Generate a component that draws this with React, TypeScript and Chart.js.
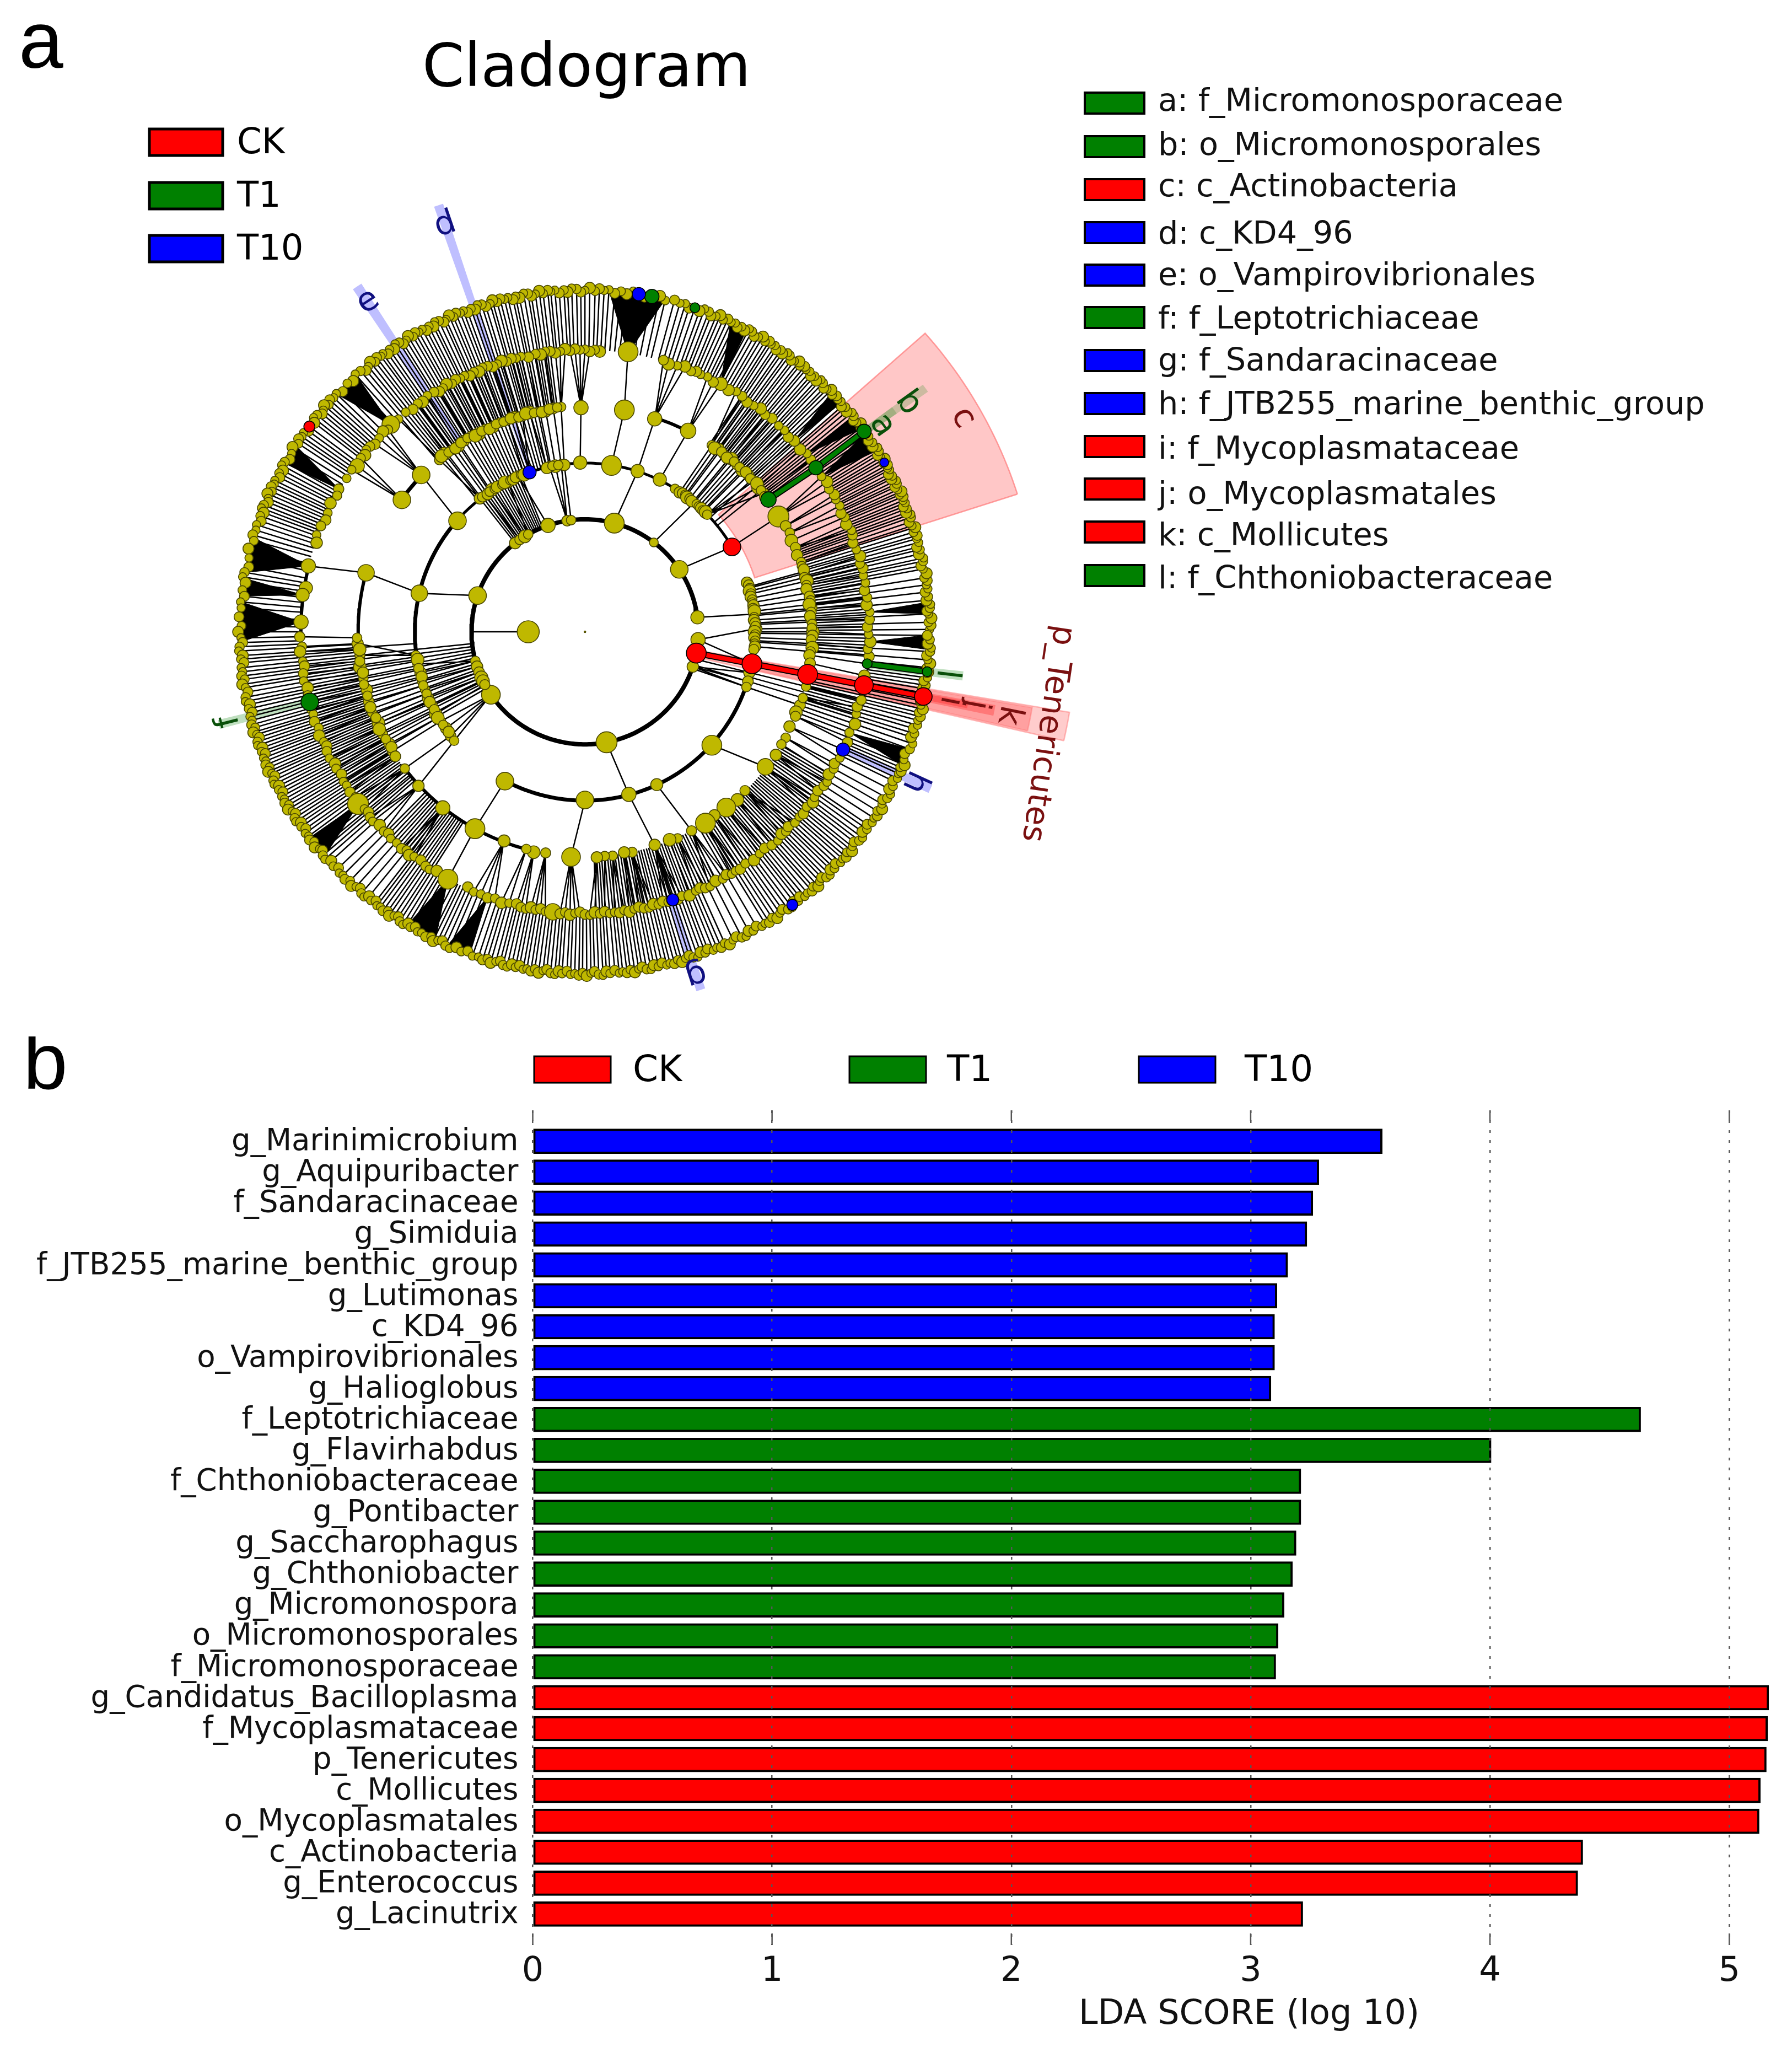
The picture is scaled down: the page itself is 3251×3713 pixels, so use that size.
import React, { useEffect, useRef } from "react";
import { Chart, registerables } from "chart.js";

Chart.register(...registerables);

// ---------- panel b data ----------
const t10Names = ["g_Marinimicrobium", "g_Aquipuribacter", "f_Sandaracinaceae", "g_Simiduia", "f_JTB255_marine_benthic_group", "g_Lutimonas", "c_KD4_96", "o_Vampirovibrionales", "g_Halioglobus"];
const t10Values = [3.55, 3.285, 3.26, 3.235, 3.155, 3.11, 3.1, 3.1, 3.085];
const t1Names = ["f_Leptotrichiaceae", "g_Flavirhabdus", "f_Chthoniobacteraceae", "g_Pontibacter", "g_Saccharophagus", "g_Chthoniobacter", "g_Micromonospora", "o_Micromonosporales", "f_Micromonosporaceae"];
const t1Values = [4.63, 4.005, 3.21, 3.21, 3.19, 3.175, 3.14, 3.115, 3.105];
const ckNames = ["g_Candidatus_Bacilloplasma", "f_Mycoplasmataceae", "p_Tenericutes", "c_Mollicutes", "o_Mycoplasmatales", "c_Actinobacteria", "g_Enterococcus", "g_Lacinutrix"];
const ckValues = [5.165, 5.16, 5.155, 5.13, 5.125, 4.388, 4.367, 3.218];
const xTickValues = [0, 1, 2, 3, 4, 5];

// ---------- panel a legend ----------
const groupNames = ["CK", "T1", "T10"];
const groupColors = ["#ff0000", "#008000", "#0000ff"];
const cladeLegend = [
  ["a: f_Micromonosporaceae", "#008000"], ["b: o_Micromonosporales", "#008000"], ["c: c_Actinobacteria", "#ff0000"],
  ["d: c_KD4_96", "#0000ff"], ["e: o_Vampirovibrionales", "#0000ff"], ["f: f_Leptotrichiaceae", "#008000"],
  ["g: f_Sandaracinaceae", "#0000ff"], ["h: f_JTB255_marine_benthic_group", "#0000ff"], ["i: f_Mycoplasmataceae", "#ff0000"],
  ["j: o_Mycoplasmatales", "#ff0000"], ["k: c_Mollicutes", "#ff0000"], ["l: f_Chthoniobacteraceae", "#008000"],
];

// ---------- cladogram: node angles (degrees, counter-clockwise from east) ----------
const ringRadii = [104, 208, 312, 416, 521, 632];

const ring1Linked = [161.2, 128, 125, 122, 120, 109, 99, 97, 75, 52.6, 33.7, 7.4, -4, -18, -79, -146, 195, 198, 201, 204, 206, 208];
const ring1Big = [[161.2, 16], [109, 13], [75, 18], [33.7, 16], [7.4, 12], [-4, 13], [-79, 19], [-146, 17], [52.6, 8], [204, 12]];

const ring2Linked = [166.8, 128, 126, 123, 120, 117, 113, 102, 100, 98, 97, 72, 50, 30.2, 6, 1, -10.9, -14, -17, -19, -75, 191, 194, 197, 200, 203, 206, 209, 212, 215, 218, 220];
const ring2Free = [138.7, 127, 125, 124, 122, 121, 119, 118, 116, 115, 114, 112, 111, 109, 103, 101, 99, 91.6, 81, 64, 58, 56, 55, 54, 53, 52, 51, 49, 48, 47, 46, 45, 44, 17, 16, 15, 14, 13, 12, 11, 10, 9, 8, 7, 5, 4, 3, 2, 0, -1, -2, -3, -4, -5, -6, -42, -65, -90, -118, 188, 189.5, 192.5, 195.5, 198.5, 201.5, 204.5, 207.5, 210.5, 213.5, 216.5];
const ring2Big = [[166.8, 15], [138.7, 16], [81, 18], [-42, 18], [-90, 16], [-118, 16], [64, 12], [72, 12], [91.6, 12], [-65, 11], [-75, 13]];

const ring3Linked = [164.8, 136, 130, 128, 126, 124, 122, 120, 118, 116, 114, 112, 110, 108, 106, 104, 102, 100, 98, 96, 91, 80, 72, 63, 56, 54, 52, 50, 48, 46, 44, 42, 40, 38, 31, 15, 10, 6, 3, 0, -3, -10.4, -19, -17, -37, -62, -72, -93.5, -119, 183, 186, 189, 192, 195, 198, 201, 204, 207, 210, 212, -142.6, -137];
const ring3Free = [144, 129, 127, 125, 123, 121, 119, 117, 115, 113, 111, 109, 107, 105, 103, 101, 99, 97, 55, 53, 51, 49, 47, 45, 43, 41, 39, 37, 28, 26, 24, 22, 20, 18, 17, 16, 14, 13, 12, 11, 9, 8, 7, 5, 4, 2, 1, -1, -2, -4, -5, -6, -8, -14, -21, -22, -25, -28, -30, -33, -45, -48, -51.4, -55, -58, -66, -68, -78, -80, -83, -85, -87, -100, -103, -105, -111, -128.7, 181.5, 184.5, 187.5, 190.5, 193.5, 196.5, 199.5, 202.5, 205.5, 208.5, 211, 213.5];
const ring3Big = [[164.8, 15], [136, 16], [144, 16], [91, 13], [80, 18], [72, 13], [63, 14], [31, 19], [-37, 15], [-51.4, 17], [-58, 18], [-93.5, 17], [-119, 18], [-111, 11], [-128.7, 13]];

const ring4Nodes = [-6.5, -5, -3.5, -2, -0.5, 1, 2.5, 4, 5.5, 7, 8.5, 10, 11.5, 13, 14, 15.5, 17, 18.5, 20, 21, 22.5, 24, 25, 26.5, 28, 29, 30.5, 32, 33.5, 35.6, 37.5, 39, 40.5, 42.6, 44, 45.5, 47, 49, 50.5, 52, 53.5, 55, 56.5, 58, 59.5, 61.5, 63, 64.5, 66, 67, 68, 69.5, 71, 72.8, 74, 81.3, 87, 88, 89, 90, 91, 92, 93, 94, 95, 96, 97, 98, 99, 100, 101.5, 103, 104, 105, 106, 107, 108, 109, 110, 111, 112, 113, 114, 115, 116, 117, 118, 119, 120, 121, 122, 123.5, 125, 126, 127.5, 129, 131, 132.9, 134, 135, 136.5, 138, 139, 140, 141, 142, 143.7, 145, 147, 149.7, 151, 153, 155, 156.5, 158, 160, 161.5, 166.5, 171, 172.5, 178, 181, 183, 184, 186, 187, 188.5, 190, 191.5, 193, 194.4, 196, 197, 198.5, 200, 201.5, 203, 204, 205, 206.5, 208, 209, 210.5, 212, 213, 214.5, 216, 217.4, 219, 220, 221, 222, 223.5, 225, 226, 227, 228.5, 230, 231, 232, 233, 234.5, 236, 237, 238.4, 241.2, -114.5, -113, -111.5, -110, -108.5, -107, -105.5, -104, -103, -102, -101, -100, -99, -98, -96.5, -95, -94, -93, -92, -91, -90, -89, -88, -87, -86, -85, -84, -83, -82, -81, -80, -79, -78, -77, -76, -75, -74, -73, -72, -71, -70, -68.5, -67, -66, -65, -64, -62.5, -61, -60, -59, -58, -57, -55.5, -53.7, -52, -50.5, -49, -47.5, -46, -45, -44, -42.5, -41, -40, -38.5, -37, -36, -34.5, -33, -32, -30.5, -29, -28, -26.5, -24.7, -23, -21, -19, -17, -15.5, -14, -10.9, -9];
const ring4Big = [[81.3, 18], [61.5, 12], [72.8, 11], [132.9, 16], [143.7, 13], [166.5, 13], [171, 12], [172.5, 12], [178, 13], [217.4, 19], [241.2, 18], [-96.5, 15], [42.6, 10]];

const ring5Nodes = [
  0.4, 1.1, 1.6, 2.3, 3, 3.5, 4, 4.6, 5.3, 5.9, 6.7, 7.2, 7.9, 8.6, 9.1, 9.8, 10.6, 11.2, 11.9, 12.4, 13.2, 13.9, 14.4, 15.1, 15.8, 16.3, 17, 17.7, 18.1, 18.8, 19.5, 20, 20.5, 21.1, 21.6, 22.1, 22.6, 23.2, 23.7, 24.1, 24.6, 25.2, 25.6, 26.1, 26.7, 27.1, 27.6, 28.2, 28.6, 29.1, 29.7,
  30.2, 30.7, 31.3, 31.8, 32.4, 33, 33.6, 34.2, 34.8, 35.3, 36, 36.7, 37.3, 37.8, 38.4, 39, 39.6, 40.3, 41, 41.5, 42.2, 42.8, 43.4, 44, 44.7, 45.3, 45.8, 46.5, 47.1, 47.6, 48.3, 48.8, 49.4, 50.1, 50.6, 51.3, 51.8, 52.5, 53, 53.7, 54.2, 54.9, 55.4, 56.1, 56.6, 57.3, 57.8, 58.4, 59.1, 59.7,
  60.4, 61.1, 61.7, 62.3, 63, 63.6, 64.2, 64.9, 65.6, 66.3, 67, 67.6, 68.4, 69, 69.8, 70.5, 71.4, 72.3, 73.1, 74, 75, 76.5, 77.5, 78.8, 80, 81, 82, 83, 84, 85, 86, 86.8, 87.6, 88.3, 89.2, 90,
  90.7, 91.4, 92.2, 92.9, 93.5, 94.3, 95, 95.7, 96.2, 97, 97.6, 98.3, 99, 99.5, 100.2, 101, 101.6, 102.1, 102.9, 103.5, 104.2, 104.8, 105.5, 106, 106.8, 107.4, 108.1, 108.7, 109.3, 110, 110.6, 111.2, 111.9, 112.5, 113.1, 113.8, 114.3, 115, 115.7, 116.2, 116.9, 117.5, 118.1, 118.8, 119.4,
  120, 120.7, 121.3, 122, 122.5, 123.2, 123.8, 124.5, 125.1, 125.8, 126.3, 127, 127.6, 128.3, 129, 129.7, 130.5, 131.5, 132.5, 133.5, 135, 136, 136.8, 137.5, 138.2, 138.8, 139.5, 140.1, 140.8, 141.5, 142.1, 143.1, 143.8, 144.5, 145.2, 145.8, 146.5, 147.5, 148.5, 149.5, 150.3,
  151, 151.7, 152.4, 153, 153.8, 154.4, 155, 155.7, 156.3, 157, 157.6, 158.3, 158.9, 159.5, 160.2, 161, 161.8, 162.7, 163.6, 164.5, 166, 167.5, 169, 170, 170.8, 171.7, 173, 174, 175, 176, 177.5, 179, 180,
  181, 181.8, 182.5, 183.2, 184, 184.6, 185.2, 186, 186.7, 187.4, 188, 188.8, 189.4, 190.2, 191, 191.7, 192.3, 193, 193.7, 194.3, 195, 195.7, 196.3, 197, 197.5, 198.1, 198.7, 199.3, 199.9, 200.5, 201, 201.6, 202.2, 202.8, 203.4, 204, 204.5, 205.1, 205.7, 206.3, 206.9, 207.5, 208.1, 208.7, 209.3, 209.9,
  210.5, 211.1, 211.7, 212.3, 212.9, 213.5, 214.1, 214.7, 215.4, 216, 216.7, 217.3, 218, 218.8, 219.5, 220, 220.7, 221.4, 222.3, 223.2, 224, 224.7, 225.4, 226.1, 226.9, 227.6, 228.3, 229, 229.7, 230.4, 231, 231.7, 232.4, 233, 233.6, 234.3, 235, 235.6, 236.3, 237, 237.6, 238.3, 239, 239.6,
  240.3, 241, 241.7, 242.6, 243.4, 244, 244.7, 245.4, 246.2, 247, 248, 249, 250, 251, 252, 252.8, 253.5, 254.2, 255, 255.7, 256.3, 257, 257.7, 258.4, 259, 259.7, 260.3, 261, 261.6, 262.3, 263, 263.6, 264.3, 265, 265.6, 266.2, 267, 267.6, 268.3, 269, 269.6,
  270.3, 271, 271.6, 272.3, 273, 273.6, 274.2, 275, 275.7, 276.3, 277, 277.6, 278.3, 279, 279.6, 280.3, 281, 281.6, 282.3, 283, 283.7, 284.3, 285, 285.7, 286.3, 287, 287.7, 288.3, 289, 289.7, 290.4, 291, 291.8, 292.5, 293.2, 294, 294.7, 295.5, 296.2, 297, 297.7, 298.5, 299.2,
  300, 300.8, 301.5, 302.2, 303, 303.7, 304.5, 305.2, 306, 306.7, 307.5, 308.2, 308.8, 309.5, 310.2, 311, 311.6, 312.3, 313, 313.7, 314.3, 315, 315.7, 316.3, 317, 317.7, 318.4, 319, 319.7, 320.4, 321, 321.8, 322.5, 323.2, 324, 324.8, 325.5, 326.2, 327, 327.6, 328.3, 329, 329.7,
  330.4, 331, 331.8, 332.5, 333.2, 334, 334.7, 335.5, 336, 336.6, 337.2, 338, 339, 340, 341, 342, 342.7, 343.5, 344.2, 345, 345.7, 346.3, 347, 347.6, 348.3, 349, 349.7, 350.4, 351, 351.7, 352.3, 353, 353.3, 354, 354.7, 355.3, 356, 356.7, 357.3, 358, 358.7, 359.4,
];

// angular ranges where a band between two rings is filled by near-parallel branches
const denseBands34 = [[97, 131], [36, 57], [-5, 22], [-22, -12], [-60, -30], [-88, -62], [183, 222], [225, 238]];
const denseBands23 = [[100, 130], [-5, 16], [184, 212], [-20, -12], [38, 56]];
const denseBands12 = [[-20, -12], [186, 210], [112, 128]];
// outer-band ranges where the branches stand further apart
const sparseOuterBands = [[-7, 10], [-34, -26], [-138, -128], [-66, -58]];

// solid black fans: [ring-4 parent angle, first child angle, last child angle]
const blackWedges = [[81.3, 76.5, 86], [166.5, 164, 170], [178, 175, 181.7], [172.5, 171, 174], [241.2, 239, 244.3], [-110, -113.5, -109.5], [132.9, 131.5, 136], [149.7, 147, 150.5], [61.5, 62, 65], [42.6, 42, 44.4], [33.5, 32, 35.6], [39, 36.5, 39], [-21, -23, -20], [217.4, 217, 221], [4, 3, 5], [-2, -3, -0.5]];

// thick arcs on a ring: [ring, from, to, line width]
const ringArcs = [[1, 7.4, 205, 8], [1, -155, -18, 8], [2, 139, 190, 7], [2, 30, 139, 5], [2, -118, -20, 7], [3, 164, 190, 6], [3, 136, 144, 7], [3, 63, 72, 6], [3, -142, -105, 6], [4, 166, 195, 6]];

// coloured clades: [ring, angle, ring, angle, colour]
const cladeLinks = [[1, -10.9, 2, -10.9, "#ff0000"], [2, -10.9, 3, -10.9, "#ff0000"], [3, -10.9, 4, -10.9, "#ff0000"], [4, -10.9, 5, -10.9, "#ff0000"], [3, 36, 4, 35.6, "#008000"], [4, 35.6, 5, 35.9, "#008000"], [4, -6.5, 5, -6.7, "#008000"]];
// coloured nodes: [ring, angle, radius, colour]
const cladeNodes = [[5, 143.1, 10, "#ff0000"], [5, -53, 10, "#0000ff"], [5, 29.7, 8, "#0000ff"], [5, 71.4, 9, "#008000"], [5, 78.8, 13, "#008000"], [5, 81, 12, "#0000ff"], [5, -6.7, 9, "#008000"], [4, -6.5, 9, "#008000"], [5, 35.9, 13, "#008000"], [4, 35.6, 13, "#008000"], [3, 36, 14, "#008000"], [4, 194.4, 16, "#008000"], [2, 109, 12, "#0000ff"], [4, -72, 11, "#0000ff"], [4, -24.7, 12, "#0000ff"], [2, 30.2, 16, "#ff0000"], [1, -10.9, 18, "#ff0000"], [2, -10.9, 18, "#ff0000"], [3, -10.9, 18, "#ff0000"], [4, -10.9, 17, "#ff0000"], [5, -10.9, 16, "#ff0000"]];

// shaded sectors: [inner r, outer r, from angle, to angle, fill, edge]
const sectors = [
  [327, 833, 17.8, 41.5, "rgba(255,0,0,0.22)", "rgba(255,120,120,0.7)"],
  [214, 901, -12.9, -9.5, "rgba(255,0,0,0.2)", "rgba(255,120,120,0.5)"],
  [320, 832, -12.7, -9.7, "rgba(255,0,0,0.22)", "rgba(255,120,120,0.5)"],
  [416, 765, -11.7, -10.2, "rgba(255,0,0,0.25)", "rgba(255,0,0,0)"],
  [520, 715, -11.4, -10.4, "rgba(255,0,0,0.25)", "rgba(255,0,0,0)"],
  [520, 770, 35.2, 36.4, "rgba(0,128,0,0.2)", "rgba(0,128,0,0)"],
  [628, 700, 35.2, 36.4, "rgba(0,128,0,0.2)", "rgba(0,128,0,0)"],
  [314, 833, 108.2, 109.4, "rgba(0,0,255,0.25)", "rgba(0,0,255,0)"],
  [416, 763, 122.5, 123.9, "rgba(0,0,255,0.25)", "rgba(0,0,255,0)"],
  [520, 693, 193.6, 195, "rgba(0,128,0,0.25)", "rgba(0,128,0,0)"],
  [520, 695, -72.9, -71.5, "rgba(0,0,255,0.25)", "rgba(0,0,255,0)"],
  [520, 697, -25.3, -23.9, "rgba(0,0,255,0.25)", "rgba(0,0,255,0)"],
  [520, 698, -7.4, -6, "rgba(0,128,0,0.25)", "rgba(0,128,0,0)"],
];

// clade letters: [text, r, angle, colour]
const cladeLabels = [
  ["a", 665, 35, "#0a500a"], ["b", 728, 35.5, "#0a500a"], ["c", 798, 29.7, "#7a1010"], ["d", 794, 108.8, "#101080"],
  ["e", 728, 123.1, "#101080"], ["f", 673, 194.2, "#0a500a"], ["g", 665, -72.2, "#101080"], ["h", 665, -24.6, "#101080"],
  ["i", 682, -10.8, "#7a1010"], ["j", 730, -10.6, "#7a1010"], ["k", 792, -11.2, "#7a1010"], ["l", 667, -6.7, "#0a500a"],
];

// ---------- layout ----------
const W = 3251;
const H = 3713;
const SPLIT = 1880;
const CX = 1055;
const CY = 1150;
const FONT = "'DejaVu Sans'";
const legendRowY = [187, 266, 344, 422, 499, 576, 654, 732, 810, 887, 965, 1044];
const legendTextY = [186, 266, 341, 427, 502, 581, 657, 736, 817, 899, 974, 1052];
const topLegendY = [258, 355, 451];
const bLegendX = [[969, 1148], [1541, 1718], [2066, 2258]];
const beadOffsets = [0, 3, -2, 4, -1, -4, 2, 4, -3, 1, -4, 2];
const beadSizes = [7.5, 9, 8, 10, 7.5, 9, 8.5, 7.5, 10, 8, 9, 7.5];

const rad = (d: number) => (d * Math.PI) / 180;
const polar = (r: number, a: number) => ({ x: r * Math.cos(rad(a)), y: r * Math.sin(rad(a)) });
const gap = { x: NaN, y: NaN };
const angDiff = (a: number, b: number) => Math.abs(((a - b + 540) % 360) - 180);
const norm = (a: number) => ((a % 360) + 360) % 360;

function links(children: number[], parents: number[], rc: number, rp: number, maxDiff: number) {
  const out: any[] = [];
  for (const c of children) {
    let best = parents[0];
    for (const p of parents) if (angDiff(c, p) < angDiff(c, best)) best = p;
    if (angDiff(c, best) <= maxDiff) out.push(polar(rp, best), polar(rc, c), gap);
  }
  return out;
}

function radials(list: number[], r0: number, r1: number) {
  const out: any[] = [];
  for (const a of list) out.push(polar(r0, a), polar(r1, a), gap);
  return out;
}

const inBand = (a: number, bands: number[][]) => bands.some(([lo, hi]) => norm(a - lo) <= hi - lo);
const inBands = (list: number[], bands: number[][]) => list.filter((a) => inBand(a, bands));

function arcPoints(r: number, from: number, to: number) {
  const pts: any[] = [];
  const n = Math.max(2, Math.ceil(Math.abs(to - from)));
  for (let i = 0; i <= n; i++) pts.push(polar(r, from + ((to - from) * i) / n));
  return pts;
}

function swatch(ctx: any, x: number, y: number, w: number, h: number, color: string, lw: number) {
  ctx.fillStyle = color;
  ctx.strokeStyle = "#000";
  ctx.lineWidth = lw;
  ctx.fillRect(x, y, w, h);
  ctx.strokeRect(x, y, w, h);
}

const panelATextPlugin = {
  id: "panelAText",
  afterDraw(chart: any) {
    const { ctx, scales } = chart;
    ctx.save();
    ctx.textBaseline = "alphabetic";
    ctx.textAlign = "left";
    ctx.fillStyle = "#000";
    ctx.font = "145px 'Liberation Sans'";
    ctx.fillText("a", 34, 123);
    ctx.font = `109px ${FONT}`;
    ctx.textAlign = "center";
    ctx.fillText("Cladogram", 1064, 156);
    ctx.textAlign = "left";
    ctx.textBaseline = "middle";
    groupNames.forEach((g, i) => {
      swatch(ctx, 271, topLegendY[i] - 24, 133, 48, groupColors[i], 5);
      ctx.fillStyle = "#000";
      ctx.font = `64px ${FONT}`;
      ctx.fillText(g, 430, topLegendY[i] + 3);
    });
    cladeLegend.forEach(([t, c], i) => {
      swatch(ctx, 1968, legendRowY[i] - 19, 108, 38, c, 4);
      ctx.fillStyle = "#111";
      ctx.font = `57.3px ${FONT}`;
      ctx.fillText(t, 2101, legendTextY[i]);
    });
    ctx.textAlign = "center";
    const put = (t: string, r: number, a: number, color: string, size: number, rot: number) => {
      const p = polar(r, a);
      ctx.save();
      ctx.translate(scales.x.getPixelForValue(p.x), scales.y.getPixelForValue(p.y));
      ctx.rotate(rad(rot));
      ctx.fillStyle = color;
      ctx.font = `${size}px ${FONT}`;
      ctx.fillText(t, 0, 0);
      ctx.restore();
    };
    cladeLabels.forEach(([t, r, a, c]: any) => put(t, r, a, c, 60, 90 - a));
    put("p_Tenericutes", 868, -12.5, "#7a1010", 58, 98.5);
    ctx.restore();
  },
};

const panelBPlugin = {
  id: "panelB",
  afterDraw(chart: any) {
    const { ctx, scales, chartArea } = chart;
    ctx.save();
    ctx.fillStyle = "#000";
    ctx.font = "145px 'Liberation Sans'";
    ctx.textBaseline = "alphabetic";
    ctx.textAlign = "left";
    ctx.fillText("b", 42, 95);
    ctx.strokeStyle = "#555";
    ctx.lineWidth = 2.5;
    scales.x.ticks.forEach((t: any) => {
      const x = scales.x.getPixelForValue(t.value);
      ctx.beginPath();
      ctx.moveTo(x, chartArea.top);
      ctx.lineTo(x, chartArea.top + 19);
      ctx.moveTo(x, chartArea.bottom);
      ctx.lineTo(x, chartArea.bottom - 21);
      ctx.stroke();
    });
    ctx.textBaseline = "middle";
    groupNames.forEach((g, i) => {
      swatch(ctx, bLegendX[i][0], 36, 139, 48, groupColors[i], 3);
      ctx.fillStyle = "#000";
      ctx.font = `66px ${FONT}`;
      ctx.fillText(g, bLegendX[i][1], 64);
    });
    ctx.font = `62px ${FONT}`;
    ctx.fillStyle = "#111";
    ctx.textAlign = "center";
    ctx.fillText("LDA SCORE (log 10)", 2266, 1775);
    ctx.restore();
  },
};

export default function App() {
  const aRef = useRef<HTMLCanvasElement>(null);
  const bRef = useRef<HTMLCanvasElement>(null);

  useEffect(() => {
    const rings = ringRadii;
    const ring1 = ring1Linked;
    const ring2 = [...ring2Linked, ...ring2Free];
    const ring3 = [...ring3Linked, ...ring3Free];
    const outerBranches = ring5Nodes.filter((a, i) => !inBand(a, sparseOuterBands) || i % 2 === 0);

    const thin = [
      polar(rings[0], 180), polar(rings[1], 180), gap,
      ...links(ring2Linked, ring1, rings[2], rings[1], 7),
      ...links(ring3Linked, ring2, rings[3], rings[2], 7),
      ...links(ring4Nodes, ring3, rings[4], rings[3], 2.5),
      ...radials(inBands(ring5Nodes, denseBands34), rings[3], rings[4]),
      ...radials(inBands(ring4Nodes, denseBands23), rings[2], rings[3]),
      ...radials(inBands(ring3, denseBands12), rings[1], rings[2]),
      ...radials(outerBranches, rings[4], rings[5]),
    ];

    const base = { showLine: true, pointRadius: 0, pointHoverRadius: 0, tension: 0, clip: false as any };
    const datasets: any[] = [];
    let order = 1000;

    sectors.forEach(([r0, r1, a0, a1, fill, edge]: any) => {
      const pts = [...arcPoints(r1, a0, a1), ...arcPoints(r0, a1, a0)];
      pts.push(pts[0]);
      datasets.push({ ...base, data: pts, fill: "shape", backgroundColor: fill, borderColor: edge, borderWidth: 2.5, order: order-- });
    });
    blackWedges.forEach(([p, a0, a1]: any) => {
      const pts = [polar(rings[4], p), ...arcPoints(rings[5], a0, a1)];
      pts.push(pts[0]);
      datasets.push({ ...base, data: pts, fill: "shape", backgroundColor: "#000", borderColor: "#000", borderWidth: 1, order: order-- });
    });
    datasets.push({ ...base, data: thin, borderColor: "#000", borderWidth: 2.5, spanGaps: false, fill: false, order: order-- });
    ringArcs.forEach(([ring, a0, a1, w]: any) => {
      datasets.push({ ...base, data: arcPoints(rings[ring], a0, a1), borderColor: "#000", borderWidth: w, fill: false, order: order-- });
    });
    cladeLinks.forEach(([r0, a0, r1, a1, c]: any) => {
      const data = [polar(rings[r0], a0), polar(rings[r1], a1)];
      datasets.push({ ...base, data, borderColor: "#000", borderWidth: 12, fill: false, order: order-- });
      datasets.push({ ...base, data, borderColor: c, borderWidth: 8, fill: false, order: order-- });
    });

    const sizeOf = (a: number, big: number[][], dflt: number) => {
      const hit = big.find((b) => b[0] === a);
      return hit ? hit[1] : dflt;
    };
    const nodes: any[] = [];
    const radii: number[] = [];
    const addRing = (list: number[], ring: number, big: number[][], scale: number, jitter: number) => {
      list.forEach((a, i) => {
        nodes.push(polar(rings[ring] + beadOffsets[i % beadOffsets.length] * jitter, a));
        radii.push(sizeOf(a, big, beadSizes[i % beadSizes.length] * scale));
      });
    };
    addRing(ring5Nodes, 5, [], 1, 1);
    addRing(ring4Nodes, 4, ring4Big, 1.05, 0.7);
    addRing(ring3, 3, ring3Big, 1.15, 0.5);
    addRing(ring2, 2, ring2Big, 1.15, 0.3);
    addRing(ring1, 1, ring1Big, 1.15, 0);
    nodes.push(polar(rings[0], 180));
    radii.push(20);
    nodes.push(polar(0, 0));
    radii.push(1.5);
    const yellowCount = nodes.length;
    cladeNodes.forEach(([ring, a, size]: any) => {
      nodes.push(polar(rings[ring], a));
      radii.push(size);
    });
    const fills = nodes.map((_, i) => (i < yellowCount ? "#bfb800" : (cladeNodes[i - yellowCount][3] as string)));
    datasets.push({
      data: nodes,
      showLine: false,
      pointRadius: radii,
      pointHoverRadius: radii,
      pointBackgroundColor: fills,
      pointBorderColor: nodes.map((_, i) => (i < yellowCount ? "#4a4700" : "#000")),
      pointBorderWidth: 1.6,
      clip: false,
      order: 0,
    });

    const hidden = { type: "linear", display: false } as any;
    const chartA = new Chart(aRef.current!, {
      type: "line",
      data: { datasets },
      options: {
        animation: false,
        responsive: false,
        devicePixelRatio: 1,
        layout: { padding: 0 },
        plugins: { legend: { display: false }, tooltip: { enabled: false } },
        scales: {
          x: { ...hidden, min: -CX, max: W - CX },
          y: { ...hidden, min: CY - SPLIT, max: CY },
        },
      },
      plugins: [panelATextPlugin],
    } as any);

    // panel b
    const names = ["", ...t10Names, ...t1Names, ...ckNames, ""];
    const values = [null, ...t10Values, ...t1Values, ...ckValues, null];
    const colors = [
      "#fff",
      ...t10Values.map(() => groupColors[2]),
      ...t1Values.map(() => groupColors[1]),
      ...ckValues.map(() => groupColors[0]),
      "#fff",
    ];
    const chartB = new Chart(bRef.current!, {
      type: "bar",
      data: {
        labels: names,
        datasets: [{ data: values, backgroundColor: colors, borderColor: "#000", borderWidth: 4, barThickness: 45, borderSkipped: false }],
      },
      options: {
        indexAxis: "y",
        animation: false,
        responsive: false,
        devicePixelRatio: 1,
        layout: { padding: { top: 134, right: 40, left: 0, bottom: 0 } },
        plugins: { legend: { display: false }, tooltip: { enabled: false } },
        scales: {
          y: {
            type: "category",
            offset: false,
            grid: { display: false },
            border: { display: false },
            afterFit: (s: any) => { s.width = 966.5; },
            ticks: { autoSkip: false, font: { family: "DejaVu Sans", size: 54.6 }, color: "#111", padding: 18, labelOffset: 2 },
          },
          x: {
            type: "linear",
            min: 0,
            max: 5.17,
            afterFit: (s: any) => { s.height = 185; },
            afterBuildTicks: (s: any) => { s.ticks = xTickValues.map((value) => ({ value })); },
            grid: { z: 1, color: "#555", lineWidth: 2.5, drawTicks: false },
            border: { display: false, dash: [5, 13] },
            ticks: { font: { family: "DejaVu Sans", size: 62 }, color: "#111", padding: 12, includeBounds: false, maxRotation: 0 },
          },
        },
      },
      plugins: [panelBPlugin],
    } as any);

    return () => {
      chartA.destroy();
      chartB.destroy();
    };
  }, []);

  return (
    <div style={{ position: "absolute", left: 0, top: 0, width: W, height: H, background: "#fff", overflow: "hidden" }}>
      <canvas ref={aRef} width={W} height={SPLIT} style={{ position: "absolute", left: 0, top: 0, width: W, height: SPLIT }} />
      <canvas ref={bRef} width={W} height={H - SPLIT} style={{ position: "absolute", left: 0, top: SPLIT, width: W, height: H - SPLIT }} />
    </div>
  );
}
